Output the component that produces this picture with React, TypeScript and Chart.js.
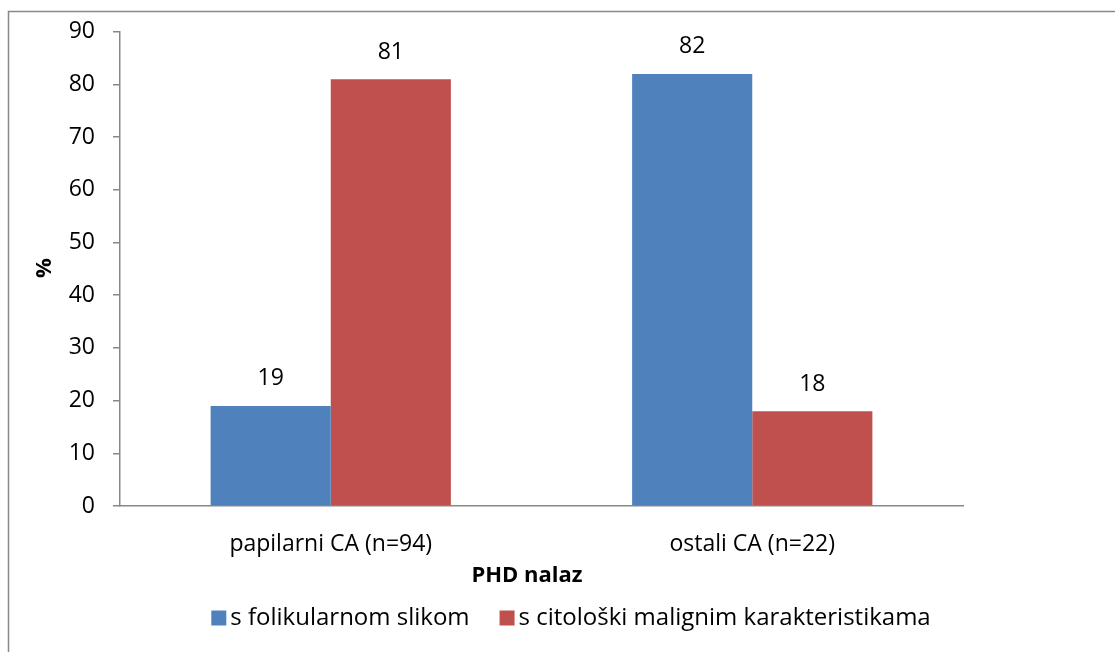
import React, { useEffect, useRef } from "react";
import { Chart, registerables } from "chart.js";

Chart.register(...registerables);

const categories = ["papilarni CA (n=94)", "ostali CA (n=22)"];
const seriesNames = ["s folikularnom slikom", "s citološki malignim karakteristikama"];
const folikularnom = [19, 82];
const citoloski = [81, 18];
const seriesColors = ["#4F81BD", "#C0504D"];
const yTicks = [0, 10, 20, 30, 40, 50, 60, 70, 80, 90];
const xTitle = "PHD nalaz";
const yTitle = "%";

const FONT = "'Open Sans', 'Noto Sans', sans-serif";
const FS = 23;

const customPlugin = {
  id: "custom",
  beforeDraw(chart: any) {
    const ctx = chart.ctx;
    ctx.save();
    ctx.strokeStyle = "#888888";
    ctx.lineWidth = 1.5;
    ctx.beginPath();
    ctx.moveTo(8.5, 660);
    ctx.lineTo(8.5, 11.5);
    ctx.lineTo(1120, 11.5);
    ctx.stroke();
    ctx.restore();
  },
  afterDraw(chart: any) {
    const ctx = chart.ctx;
    ctx.save();
    ctx.fillStyle = "#000";
    ctx.font = `${FS}px ${FONT}`;
    ctx.textAlign = "center";
    ctx.textBaseline = "middle";
    chart.data.datasets.forEach((ds: any, i: number) => {
      const meta = chart.getDatasetMeta(i);
      meta.data.forEach((bar: any, j: number) => {
        ctx.fillText(String(ds.data[j]), bar.x, bar.y - 27);
      });
    });
    // axis titles
    ctx.font = `bold ${FS - 1}px ${FONT}`;
    ctx.fillText(xTitle, 527, 576);
    ctx.save();
    ctx.translate(45, 268);
    ctx.rotate(-Math.PI / 2);
    ctx.fillText(yTitle, 0, 0);
    ctx.restore();
    // legend
    ctx.font = `${FS + 1}px ${FONT}`;
    const box = 15;
    const gapText = 4;
    const gapItem = 30;
    const widths = seriesNames.map((n) => ctx.measureText(n).width);
    const total = widths.reduce((a, w) => a + box + gapText + w, 0) + gapItem;
    let x = 571 - total / 2;
    const cy = 618;
    ctx.textAlign = "left";
    seriesNames.forEach((n, i) => {
      ctx.fillStyle = seriesColors[i];
      ctx.fillRect(x, cy - box / 2, box, box);
      ctx.fillStyle = "#000";
      ctx.fillText(n, x + box + gapText, cy);
      x += box + gapText + widths[i] + gapItem;
    });
    ctx.restore();
  },
};

export default function App() {
  const ref = useRef<HTMLCanvasElement>(null);
  useEffect(() => {
    if (!ref.current) return;
    const chart = new Chart(ref.current, {
      type: "bar",
      data: {
        labels: categories,
        datasets: [
          {
            label: seriesNames[0],
            data: folikularnom,
            backgroundColor: seriesColors[0],
            barPercentage: 1,
            categoryPercentage: 0.57,
          },
          {
            label: seriesNames[1],
            data: citoloski,
            backgroundColor: seriesColors[1],
            barPercentage: 1,
            categoryPercentage: 0.57,
          },
        ],
      },
      options: {
        animation: false,
        responsive: false,
        maintainAspectRatio: false,
        layout: { padding: { top: 31, right: 152, left: 0, bottom: 0 } },
        plugins: {
          legend: { display: false },
          tooltip: { enabled: false },
        },
        scales: {
          x: {
            grid: { display: false },
            border: { display: true, color: "#888888", width: 1.5 },
            ticks: { color: "#000", font: { family: FONT, size: FS }, padding: 17, maxRotation: 0 },
            afterFit(scale: any) {
              scale.height = 146;
            },
          },
          y: {
            min: 0,
            max: 90,
            afterBuildTicks(scale: any) {
              scale.ticks = yTicks.map((v) => ({ value: v }));
            },
            grid: { display: true, drawOnChartArea: false, drawTicks: true, tickLength: 7, color: "#888888", lineWidth: 1.5 },
            border: { display: true, color: "#888888", width: 1.5 },
            ticks: { color: "#000", font: { family: FONT, size: FS }, padding: 18 },
            afterFit(scale: any) {
              scale.width = 120;
            },
          },
        },
      },
      plugins: [customPlugin],
    });
    return () => chart.destroy();
  }, []);
  return (
    <div style={{ position: "fixed", left: 0, top: 0, width: 1115, height: 652, background: "#fff" }}>
      <canvas ref={ref} width={1115} height={652} style={{ display: "block" }} />
    </div>
  );
}
